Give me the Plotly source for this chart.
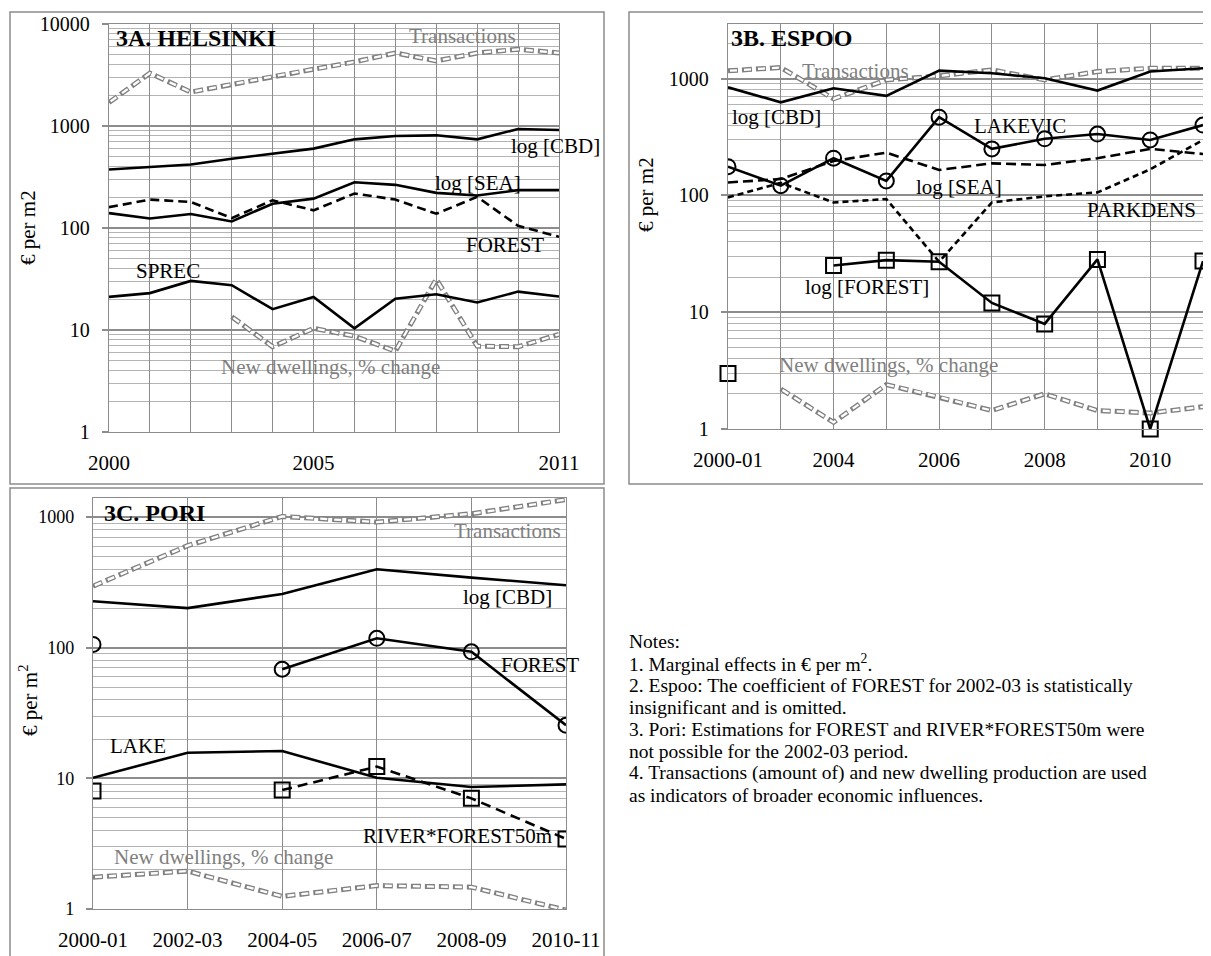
import plotly.graph_objects as go

# ---------------- DATA ----------------
# 3A Helsinki
hel_years = ["2000", "2001", "2002", "2003", "2004", "2005", "2006", "2007", "2008", "2009", "2010", "2011"]
hel_ticktext = ["2000", "", "", "", "", "2005", "", "", "", "", "", "2011"]
hel_transactions = [1700, 3300, 2150, 2570, 3050, 3600, 4250, 5200, 4350, 5200, 5650, 5200]
hel_cbd = [375, 400, 420, 477, 538, 600, 740, 798, 810, 740, 935, 915]
hel_sea = [140, 124, 137, 116, 173, 194, 281, 265, 221, 208, 235, 235]
hel_forest = [160, 190, 180, 125, 187, 149, 218, 190, 138, 202, 105, 82]
hel_sprec = [21.1, 23.0, 30.3, 27.5, 16.0, 21.1, 10.4, 20.3, 22.4, 18.6, 23.8, 21.3]
hel_newdw = [None, None, None, 13.5, 6.85, 10.4, 8.7, 6.2, 31.5, 6.95, 6.85, 9.06]

# 3B Espoo
esp_periods = ["2000-01", "2002-03", "2004", "2005", "2006", "2007", "2008", "2009", "2010", "2011"]
esp_ticktext = ["2000-01", "", "2004", "", "2006", "", "2008", "", "2010", ""]
esp_transactions = [1164, 1243, 670, 973, 1054, 1187, 973, 1148, 1226, 1226]
esp_cbd = [842, 626, 826, 711, 1170, 1110, 1005, 789, 1148, 1226]
esp_lakevic = [176, 121, 208, 133, 467, 250, 305, 335, 298, 400]
esp_sea = [129, 138, 197, 232, 165, 188, 182, 208, 250, 226]
esp_parkdens = [96, 128, 87, 93, 27, 87, 98, 106, 167, 298]
esp_forest = [2.98, None, 25.1, 27.9, 27.0, 12.0, 7.94, 28.3, 1.0, 27.4]
esp_newdw = [None, 2.2, 1.14, 2.4, 1.88, 1.44, 2.0, 1.44, 1.37, 1.55]

# 3C Pori
por_periods = ["2000-01", "2002-03", "2004-05", "2006-07", "2008-09", "2010-11"]
por_transactions = [296, 604, 1012, 915, 1061, 1361]
por_cbd = [227, 201, 258, 399, 344, 301]
por_forest = [106, None, 68.4, 118, 93, 25.5]
por_lake = [10.1, 15.7, 16.2, 10.1, 8.58, 9.0]
por_river = [8.0, None, 8.13, 12.3, 7.03, 3.44]
por_newdw = [1.75, 1.95, 1.25, 1.51, 1.47, 0.98]

notes_lines = [
    "Notes:",
    "1. Marginal effects in \u20ac per m<sup>2</sup>.",
    "2. Espoo: The coefficient of FOREST for 2002-03 is statistically",
    "insignificant and is omitted.",
    "3. Pori: Estimations for FOREST and RIVER*FOREST50m were",
    "not possible for the 2002-03 period.",
    "4. Transactions (amount of) and new dwelling production are used",
    "as indicators of broader economic influences.",
]

# ---------------- STYLE ----------------
OFF = 8                      # page body margin of the browser
W, H = 1211 - OFF, 956 - OFF
FONT = "Liberation Serif, Times New Roman, serif"
GRID = "#8c8c8c"
MINOR = "#b4b4b4"
GRAYLINE = "#808080"
LABELGRAY = "#7f7f7f"


def px(x):
    return (x - OFF) / W


def py(y):
    return 1 - (y - OFF) / H


fig = go.Figure()


def black(xref, yref, xs, ys, dash="solid", marker=None, clip=True):
    kw = dict(x=xs, y=ys, xaxis=xref, yaxis=yref, showlegend=False, hoverinfo="skip",
              connectgaps=False, cliponaxis=clip,
              line=dict(color="black", width=2.6, dash=dash))
    if marker:
        kw["mode"] = "lines+markers"
        kw["marker"] = dict(symbol=marker, size=15, color="black", line=dict(width=2, color="black"))
    else:
        kw["mode"] = "lines"
    fig.add_trace(go.Scatter(**kw))


def double_gray(xref, yref, xs, ys):
    fig.add_trace(go.Scatter(x=xs, y=ys, xaxis=xref, yaxis=yref, mode="lines", showlegend=False,
                             hoverinfo="skip", connectgaps=False,
                             line=dict(color=GRAYLINE, width=5, dash="10px,4px")))
    fig.add_trace(go.Scatter(x=xs, y=ys, xaxis=xref, yaxis=yref, mode="lines", showlegend=False,
                             hoverinfo="skip", connectgaps=False,
                             line=dict(color="white", width=2.3, dash="0px,2px,7px,5px")))


hx = list(range(len(hel_years)))
ex = list(range(len(esp_periods)))
rx = list(range(len(por_periods)))

# Helsinki (x, y)
double_gray("x", "y", hx, hel_transactions)
double_gray("x", "y", hx, hel_newdw)
black("x", "y", hx, hel_cbd)
black("x", "y", hx, hel_sea)
black("x", "y", hx, hel_forest, dash="9px,5px")
black("x", "y", hx, hel_sprec)

# Espoo (x2, y2)
double_gray("x2", "y2", ex, esp_transactions)
double_gray("x2", "y2", ex, esp_newdw)
black("x2", "y2", ex, esp_sea, dash="10px,5px")
black("x2", "y2", ex, esp_parkdens, dash="6px,4px")
black("x2", "y2", ex, esp_cbd)
black("x2", "y2", ex, esp_lakevic, marker="circle-open")
black("x2", "y2", ex, esp_forest, marker="square-open", clip=False)

# Pori (x3, y3)
double_gray("x3", "y3", rx, por_transactions)
double_gray("x3", "y3", rx, por_newdw)
black("x3", "y3", rx, por_cbd)
black("x3", "y3", rx, por_lake)
black("x3", "y3", rx, por_forest, marker="circle-open")
black("x3", "y3", rx, por_river, dash="10px,6px", marker="square-open")


def xaxis_cfg(n, ticktext, domain):
    return dict(domain=domain, range=[0, n - 1], tickmode="array", tickvals=list(range(n)),
                ticktext=ticktext, showgrid=True, gridcolor=GRID, gridwidth=1.3,
                showline=True, linecolor=GRID, linewidth=1.3, mirror=True, ticks="",
                zeroline=False, ticklabelstandoff=12, automargin=False,
                tickfont=dict(family=FONT, size=21, color="black"))


def yaxis_cfg(top, domain, size=20):
    return dict(type="log", domain=domain, range=[0, top], dtick=1, tick0=0,
                exponentformat="none", tickformat="d",
                showgrid=True, gridcolor=GRID, gridwidth=1.5,
                minor=dict(dtick="D1", showgrid=True, gridcolor=MINOR, gridwidth=1, ticks=""),
                showline=True, linecolor=GRID, linewidth=1.3, mirror=True,
                ticks="outside", ticklen=6, tickcolor=GRID, tickwidth=1.5,
                ticklabelstandoff=8, zeroline=False, automargin=False,
                tickfont=dict(family=FONT, size=size, color="black"))


xa = xaxis_cfg(len(hel_years), hel_ticktext, [px(109), px(559)]); xa["anchor"] = "y"
ya = yaxis_cfg(4, [py(432), py(24)]); ya["anchor"] = "x"
xb = xaxis_cfg(len(esp_periods), esp_ticktext, [px(728), px(1203)]); xb["anchor"] = "y2"
yb = yaxis_cfg(3.467, [py(429), py(24)]); yb["anchor"] = "x2"
xc = xaxis_cfg(len(por_periods), por_periods, [px(93), px(566)]); xc["anchor"] = "y3"
yc = yaxis_cfg(3.146, [py(909), py(498)], size=18); yc["anchor"] = "x3"

fig.update_layout(xaxis=xa, yaxis=ya, xaxis2=xb, yaxis2=yb, xaxis3=xc, yaxis3=yc)

# panel borders
shapes = []
for (x0, y0, x1, y1) in [(10, 12, 604, 484), (629, 12, 1225, 484), (10, 488, 604, 970)]:
    shapes.append(dict(type="rect", xref="paper", yref="paper", x0=px(x0), x1=px(x1),
                       y0=py(y1), y1=py(y0), line=dict(color="#8c8c8c", width=1.5),
                       fillcolor="rgba(0,0,0,0)", layer="below"))

annotations = []


def label(text, x, y, color="black", size=21, bold=False, xanchor="center", angle=0):
    t = "<b>" + text + "</b>" if bold else text
    annotations.append(dict(text=t, x=px(x), y=py(y), xref="paper", yref="paper",
                            xanchor=xanchor, yanchor="middle", showarrow=False,
                            textangle=angle,
                            font=dict(family=FONT, size=size, color=color)))


# Helsinki labels
label("3A. HELSINKI", 114, 38, size=24, bold=True, xanchor="left")
label("Transactions", 462, 36, color=LABELGRAY)
label("log [CBD]", 555, 146)
label("log [SEA]", 478, 183)
label("FOREST", 505, 245)
label("SPREC", 168, 271)
label("New dwellings, % change", 330, 367, color=LABELGRAY)
label("\u20ac per m2", 28, 228, angle=-90)

# Espoo labels
label("3B. ESPOO", 729, 38, size=24, bold=True, xanchor="left")
label("Transactions", 855, 71, color=LABELGRAY)
label("log [CBD]", 776, 117)
label("LAKEVIC", 1020, 126)
label("log [SEA]", 959, 187)
label("PARKDENS", 1141, 210)
label("log [FOREST]", 867, 287)
label("New dwellings, % change", 888, 365, color=LABELGRAY)
label("\u20ac per m2", 646, 195, angle=-90)

# Pori labels
label("3C. PORI", 102, 513, size=24, bold=True, xanchor="left")
label("Transactions", 507, 531, color=LABELGRAY)
label("log [CBD]", 507, 597)
label("FOREST", 540, 665)
label("LAKE", 138, 746)
label("RIVER*FOREST50m", 457, 836)
label("New dwellings, % change", 223, 857, color=LABELGRAY)
label("\u20ac per m<sup>2</sup>", 28, 700, angle=-90)

# Notes
for i, line in enumerate(notes_lines):
    label(line, 627, 641 + 22 * i, size=19.5, xanchor="left")

fig.update_layout(width=W, height=H, margin=dict(l=0, r=0, t=0, b=0),
                  paper_bgcolor="white", plot_bgcolor="white",
                  shapes=shapes, annotations=annotations, showlegend=False,
                  font=dict(family=FONT, color="black"))

fig.write_html("out.html")
